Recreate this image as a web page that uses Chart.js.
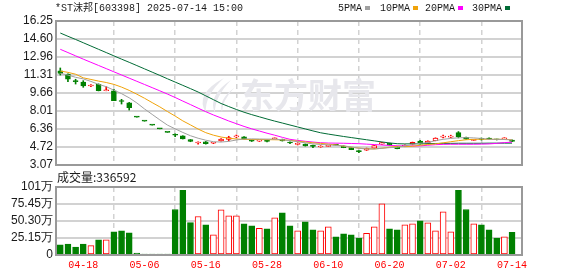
<!DOCTYPE html>
<html>
<head>
<meta charset="utf-8">
<script src="https://cdn.jsdelivr.net/npm/chart.js@4.4.1/dist/chart.umd.min.js"></script>
<style>
  html, body { margin: 0; padding: 0; background: #fff; }
  #wrap { position: relative; width: 578px; height: 276px; overflow: hidden; }
  canvas { position: absolute; left: 0; top: 0; }
</style>
</head>
<body>
<div id="wrap">
  <canvas id="kline" width="578" height="276"></canvas>
  <canvas id="vol" width="578" height="276"></canvas>
</div>
<script>
const dates = ['04-15','04-16','04-17','04-18','04-21','04-22','04-23','04-24','04-25','04-28',
  '04-29','05-06','05-07','05-08','05-09','05-12','05-13','05-14','05-15','05-16',
  '05-19','05-20','05-21','05-22','05-23','05-26','05-27','05-28','05-29','05-30',
  '06-03','06-04','06-05','06-06','06-09','06-10','06-11','06-12','06-13','06-16',
  '06-17','06-18','06-19','06-20','06-23','06-24','06-25','06-26','06-27','06-30',
  '07-01','07-02','07-03','07-04','07-07','07-08','07-09','07-10','07-11','07-14'];
const tickDates = ['04-18','05-06','05-16','05-28','06-10','06-20','07-02','07-14'];

const open = [11.68,11.40,10.75,10.67,10.30,10.46,9.87,9.87,8.92,8.77,
  7.45,7.08,6.72,6.38,6.06,5.82,5.73,5.39,5.08,5.20,
  5.06,5.27,5.40,5.65,5.64,5.36,5.25,5.33,5.47,5.42,
  5.15,4.95,4.99,4.80,4.72,4.78,4.92,4.81,4.66,4.30,
  4.42,4.60,4.97,5.06,4.75,4.78,4.97,5.27,5.06,5.30,
  5.62,5.62,6.03,5.60,5.32,5.45,5.48,5.42,5.45,5.36];
const high = [11.95,11.42,10.92,10.79,10.42,10.50,10.24,10.00,9.08,8.80,
  7.45,7.08,6.72,6.38,6.06,5.92,5.75,5.40,5.20,5.22,
  5.12,5.48,5.70,5.82,5.66,5.38,5.36,5.36,5.55,5.44,
  5.18,5.10,5.00,4.90,4.84,4.85,4.93,4.83,4.67,4.38,
  4.62,4.86,5.15,5.08,4.77,4.92,5.17,5.33,5.29,5.56,
  5.80,5.80,6.13,5.62,5.42,5.55,5.55,5.44,5.57,5.38];
const low = [11.30,10.70,10.48,10.18,10.24,9.85,9.86,8.96,8.65,8.10,
  7.45,7.08,6.72,6.38,6.06,5.66,5.45,5.20,4.97,4.98,
  5.02,5.25,5.27,5.57,5.42,5.22,5.22,5.18,5.45,5.26,
  5.02,4.90,4.80,4.66,4.69,4.76,4.87,4.65,4.47,4.20,
  4.40,4.58,4.95,4.88,4.55,4.76,4.90,4.97,5.04,5.28,
  5.56,5.58,5.55,5.42,5.30,5.35,5.40,5.36,5.43,5.20];
const close = [11.45,10.92,10.70,10.30,10.36,9.87,9.90,8.96,8.88,8.32,
  7.45,7.08,6.72,6.38,6.06,5.79,5.45,5.22,5.13,5.02,
  5.10,5.45,5.57,5.72,5.45,5.25,5.33,5.22,5.53,5.28,
  5.08,5.06,4.81,4.77,4.78,4.82,4.88,4.66,4.48,4.29,
  4.60,4.84,5.13,4.90,4.57,4.88,5.15,4.98,5.27,5.54,
  5.68,5.66,5.66,5.43,5.40,5.42,5.45,5.38,5.55,5.22];

const ma5 = [11.46,11.30,11.10,10.95,10.72,10.45,10.24,9.92,9.60,9.22,
  8.75,8.20,7.70,7.20,6.72,6.38,6.05,5.75,5.52,5.34,
  5.20,5.17,5.23,5.36,5.45,5.46,5.45,5.44,5.44,5.38,
  5.30,5.20,5.10,5.00,4.95,4.92,4.86,4.82,4.72,4.60,
  4.54,4.54,4.60,4.66,4.69,4.80,4.95,5.06,5.12,5.30,
  5.42,5.50,5.56,5.57,5.55,5.50,5.42,5.42,5.40,5.36];
const ma10 = [11.67,11.55,11.38,11.05,10.90,10.75,10.62,10.45,10.20,9.90,
  9.55,9.18,8.78,8.39,7.96,7.55,7.11,6.74,6.36,6.03,
  5.80,5.63,5.52,5.45,5.41,5.40,5.40,5.39,5.38,5.37,
  5.33,5.25,5.18,5.10,5.05,4.98,4.90,4.80,4.70,4.62,
  4.56,4.54,4.60,4.70,4.78,4.75,4.78,4.88,4.95,5.00,
  5.10,5.20,5.30,5.38,5.42,5.43,5.42,5.42,5.42,5.38];
const ma20 = [13.66,13.36,13.06,12.76,12.47,12.18,11.89,11.60,11.31,11.02,
  10.73,10.44,10.15,9.86,9.56,9.25,8.92,8.60,8.27,7.95,
  7.65,7.38,7.10,6.85,6.60,6.38,6.18,5.98,5.80,5.60,
  5.42,5.32,5.24,5.17,5.11,5.08,5.07,5.06,5.04,5.02,
  4.98,4.94,4.90,4.86,4.83,4.81,4.81,4.82,4.88,4.93,
  4.96,4.97,4.97,4.97,4.97,4.98,5.00,5.05,5.12,5.16];
const ma30 = [15.15,14.85,14.56,14.26,13.96,13.66,13.36,13.06,12.76,12.47,
  12.17,11.87,11.57,11.27,10.96,10.66,10.36,10.06,9.75,9.40,
  9.05,8.70,8.42,8.15,7.90,7.68,7.48,7.28,7.09,6.91,
  6.73,6.55,6.37,6.19,6.02,5.90,5.79,5.68,5.58,5.48,
  5.38,5.28,5.18,5.09,5.02,5.00,5.01,5.02,5.03,5.04,
  5.05,5.05,5.06,5.06,5.06,5.06,5.07,5.07,5.07,5.07];

// volume, in 万
const volume = [14.9,16.3,11.9,16.3,13.9,22.3,22.3,34.2,35.6,32.7,
  3.0,1.5,1.5,1.5,1.5,67.3,95.5,48.0,57.0,44.6,
  29.7,66.8,57.9,57.9,46.0,43.0,39.6,38.6,55.0,62.4,
  43.0,35.6,49.0,37.1,35.6,41.6,26.7,31.2,29.7,25.2,
  32.2,41.6,75.7,38.6,37.1,44.6,46.0,50.5,47.5,35.6,
  63.9,34.2,95.5,67.3,46.0,44.6,37.1,25.2,26.7,33.66];

const priceTicks = [3.07, 4.72, 6.36, 8.01, 9.66, 11.31, 12.96, 14.60, 16.25];
const volTicks = [0, 25.15, 50.30, 75.45, 100.6];
const volTickLabels = ['0', '25.15万', '50.30万', '75.45万', '101万'];

const RED = '#ff0000', GREEN = '#008000';
const GRID = '#d2d2d2';
const up = close.map((c, i) => c > open[i]);
const tickIdx = dates.map((d, i) => tickDates.includes(d) ? i : -1).filter(i => i >= 0);

function xAxis(showLabels) {
    return {
        type: 'linear', min: -0.56, max: 60.3, offset: false,
        afterBuildTicks: s => { s.ticks = tickIdx.map(v => ({ value: v })); },
        afterFit: s => { s.height = showLabels ? 17 : 0; },
        grid: { color: GRID, lineWidth: 1.5, drawTicks: false },
        border: { display: false, dash: [5, 4] },
        ticks: {
            display: showLabels, padding: 4, color: RED, autoSkip: false, maxRotation: 0,
            font: { family: "'Liberation Mono', monospace", size: 10 },
            callback: v => dates[v]
        }
    };
}

function yAxis(min, max, ticks, label) {
    return {
        min: min, max: max,
        afterBuildTicks: s => { s.ticks = ticks.map(v => ({ value: v })); },
        afterFit: s => { s.width = 56; },
        grid: { color: GRID, lineWidth: 2, drawTicks: false },
        border: { display: false },
        ticks: {
            padding: 3, color: '#1a1a1a', autoSkip: false,
            font: { family: "'Liberation Sans', Arial, sans-serif", size: 12 },
            callback: label
        }
    };
}

// gray frame round the plot area
const frame = {
    id: 'frame',
    afterDraw(chart) {
        const a = chart.chartArea, ctx = chart.ctx;
        ctx.save();
        ctx.strokeStyle = '#999';
        ctx.lineWidth = 2;
        ctx.strokeRect(a.left, a.top, a.right - a.left, a.bottom - a.top);
        ctx.restore();
    }
};

const watermark = {
    id: 'watermark',
    beforeDatasetsDraw(chart) {
        const ctx = chart.ctx;
        ctx.save();
        ctx.fillStyle = '#e7e7ec';
        // swoosh logo
        ctx.beginPath();
        ctx.moveTo(224, 78); ctx.quadraticCurveTo(194, 94, 206, 113); ctx.quadraticCurveTo(204, 96, 224, 78);
        ctx.moveTo(231, 80); ctx.quadraticCurveTo(207, 96, 215, 113); ctx.quadraticCurveTo(214, 98, 231, 80);
        ctx.moveTo(234, 88); ctx.quadraticCurveTo(218, 100, 222, 112); ctx.quadraticCurveTo(222, 101, 234, 88);
        ctx.fill();
        ctx.font = "bold 34px 'Noto Sans CJK SC', sans-serif";
        ctx.textBaseline = 'middle';
        ctx.fillText('东方财富', 240, 95);
        ctx.restore();
    }
};

const header = {
    id: 'header',
    afterDraw(chart) {
        const ctx = chart.ctx;
        ctx.save();
        ctx.textBaseline = 'middle';
        ctx.fillStyle = '#1a1a1a';
        ctx.font = "10px 'Liberation Mono', 'Noto Sans CJK SC', monospace";
        ctx.fillText('*ST沫邦[603398] 2025-07-14 15:00', 55, 8);
        const legend = [['5PMA', '#a0a0a0', 338], ['10PMA', '#f0a30a', 380], ['20PMA', '#ff00ff', 425], ['30PMA', '#006b35', 472]];
        legend.forEach(([t, c, x]) => {
            ctx.fillStyle = '#1a1a1a';
            ctx.fillText(t, x, 8);
            const w = ctx.measureText(t).width;
            ctx.fillStyle = c;
            ctx.fillRect(x + w + 3, 6, 5, 4);
        });
        ctx.restore();
    }
};

const volLabel = {
    id: 'volLabel',
    afterDraw(chart) {
        const ctx = chart.ctx;
        ctx.save();
        ctx.textBaseline = 'middle';
        ctx.fillStyle = '#1a1a1a';
        ctx.font = "12px 'Noto Sans CJK SC', sans-serif";
        ctx.fillText('成交量:336592', 57, 177);
        ctx.restore();
    }
};

function maLine(label, values, color) {
    return {
        type: 'line', label: label, order: 0,
        data: values.map((v, i) => ({ x: i, y: v })),
        borderColor: color, borderWidth: 1, pointRadius: 0, tension: 0
    };
}

new Chart(document.getElementById('kline'), {
    type: 'bar',
    data: {
        datasets: [
            maLine('MA5', ma5, '#a0a0a0'),
            maLine('MA10', ma10, '#f0a30a'),
            maLine('MA20', ma20, '#ff00ff'),
            maLine('MA30', ma30, '#006b35'),
            {
                label: 'body', order: 1, grouped: false, barThickness: 5, minBarLength: 1,
                data: open.map((o, i) => ({ x: i, y: [o, close[i]] })),
                backgroundColor: c => up[c.dataIndex] ? '#fff' : GREEN,
                borderColor: c => up[c.dataIndex] ? RED : GREEN,
                borderWidth: 1, borderSkipped: false
            },
            {
                label: 'wick', order: 2, grouped: false, barThickness: 1,
                data: low.map((l, i) => ({ x: i, y: [l, high[i]] })),
                backgroundColor: c => up[c.dataIndex] ? RED : GREEN,
                borderWidth: 0
            }
        ]
    },
    options: {
        responsive: false, animation: false, devicePixelRatio: 1,
        layout: { padding: { left: 0, right: 56, top: 21, bottom: 111 } },
        plugins: { legend: { display: false }, tooltip: { enabled: false } },
        scales: {
            x: xAxis(false),
            y: yAxis(3.07, 16.25, priceTicks, v => v.toFixed(2))
        }
    },
    plugins: [watermark, frame, header]
});

new Chart(document.getElementById('vol'), {
    type: 'bar',
    data: {
        datasets: [{
            label: 'volume', barThickness: 6,
            data: volume.map((v, i) => ({ x: i, y: v })),
            backgroundColor: c => up[c.dataIndex] ? '#fff' : GREEN,
            borderColor: c => up[c.dataIndex] ? RED : GREEN,
            borderWidth: 1, borderSkipped: false
        }]
    },
    options: {
        responsive: false, animation: false, devicePixelRatio: 1,
        layout: { padding: { left: 0, right: 56, top: 187, bottom: 4 } },
        plugins: { legend: { display: false }, tooltip: { enabled: false } },
        scales: {
            x: xAxis(true),
            y: yAxis(0, 100.6, volTicks, (v, i) => volTickLabels[i])
        }
    },
    plugins: [frame, volLabel]
});
</script>
</body>
</html>
